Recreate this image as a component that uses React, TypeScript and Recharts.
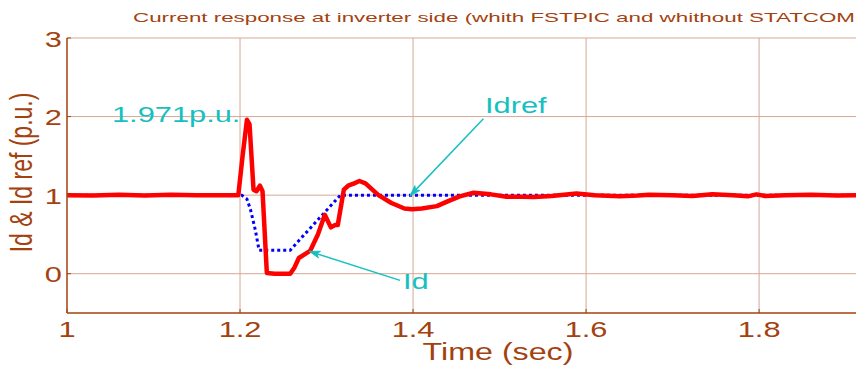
import React from "react";
import { LineChart, Line, XAxis, YAxis, CartesianGrid, ReferenceLine } from "recharts";

const idTime = [1.0, 1.03, 1.06, 1.09, 1.12, 1.15, 1.18, 1.198, 1.203, 1.208, 1.211, 1.2156, 1.219, 1.223, 1.226, 1.231, 1.24, 1.258, 1.263, 1.268, 1.275, 1.281, 1.29, 1.298, 1.305, 1.31, 1.313, 1.32, 1.325, 1.332, 1.338, 1.345, 1.36, 1.375, 1.39, 1.399, 1.41, 1.4275, 1.44, 1.454, 1.47, 1.49, 1.508, 1.525, 1.54, 1.56, 1.589, 1.61, 1.639, 1.66, 1.673, 1.7, 1.723, 1.746, 1.77, 1.787, 1.797, 1.807, 1.83, 1.86, 1.89, 1.912];
const idValues = [1.0, 0.995, 1.005, 0.995, 1.005, 1.0, 1.0, 1.0, 1.5, 1.96, 1.9, 1.07, 1.05, 1.12, 1.05, 0.01, 0.0, 0.0, 0.08, 0.2, 0.25, 0.29, 0.5, 0.75, 0.59, 0.62, 0.62, 1.07, 1.12, 1.15, 1.18, 1.15, 1.0, 0.9, 0.83, 0.82, 0.83, 0.86, 0.92, 0.985, 1.03, 1.01, 0.98, 0.98, 0.975, 0.99, 1.02, 1.0, 0.985, 0.995, 1.005, 1.0, 0.99, 1.01, 1.0, 0.985, 1.01, 0.99, 1.0, 1.005, 0.995, 1.0];

const refTime = [1.0, 1.202, 1.208, 1.212, 1.2176, 1.222, 1.258, 1.316, 1.912];
const refValues = [1.0, 1.0, 0.95, 0.82, 0.56, 0.3, 0.3, 1.0, 1.0];

const xTicks = [1, 1.2, 1.4, 1.6, 1.8];
const yTicks = [0, 1, 2, 3];

const idData = idTime.map((t, i) => ({ t, v: idValues[i] }));
const refData = refTime.map((t, i) => ({ t, v: refValues[i] }));

const BROWN = "#a3420f";
const CYAN = "#17c0c0";
const GRID = "#d6a895";
const FONT = "'Liberation Sans', Arial, sans-serif";
const SX = 1.4;

function SText({ x, y, anchor = "start", size, fill, rotate = false, children }: any) {
  return (
    <text
      transform={`translate(${x},${y}) scale(${SX},1)${rotate ? " rotate(-90)" : ""}`}
      textAnchor={anchor}
      fontSize={size}
      fontFamily={FONT}
      fill={fill}
    >
      {children}
    </text>
  );
}

function YTick(props: any) {
  const { x, y, payload } = props;
  return (
    <g>
      <line x1={x + 5} y1={y} x2={x + 9} y2={y} stroke={BROWN} strokeWidth={1} />
      <SText x={x} y={y + 8.5} anchor="end" size={22} fill={BROWN}>
        {String(payload.value)}
      </SText>
    </g>
  );
}

function XTick(props: any) {
  const { x, y, payload } = props;
  return (
    <g>
      <line x1={x} y1={y} x2={x} y2={y - 4} stroke={BROWN} strokeWidth={1} />
      <SText x={x} y={y + 24} anchor="middle" size={22} fill={BROWN}>
        {String(payload.value)}
      </SText>
    </g>
  );
}

function Arrow(props: any) {
  const { x1, y1, x2, y2 } = props;
  const ang = Math.atan2(y2 - y1, x2 - x1);
  const L = 11;
  const a = 0.32;
  const p1 = [x2 - L * Math.cos(ang - a), y2 - L * Math.sin(ang - a)];
  const p2 = [x2 - L * Math.cos(ang + a), y2 - L * Math.sin(ang + a)];
  const back = [x2 - 0.7 * L * Math.cos(ang), y2 - 0.7 * L * Math.sin(ang)];
  return (
    <g>
      <line x1={x1} y1={y1} x2={x2} y2={y2} stroke={CYAN} strokeWidth={1.5} />
      <polygon
        points={`${x2},${y2} ${p1[0]},${p1[1]} ${back[0]},${back[1]} ${p2[0]},${p2[1]}`}
        fill={CYAN}
        stroke={CYAN}
        strokeWidth={1}
      />
    </g>
  );
}

export default function App() {
  return (
    <div style={{ position: "absolute", left: 0, top: 0, width: 856, height: 367, background: "#fff" }}>
      <LineChart width={856} height={367} margin={{ top: 38, right: 0, bottom: 0, left: 0 }}>
        <CartesianGrid stroke={GRID} strokeWidth={1} horizontalValues={yTicks} verticalValues={[1.2, 1.4, 1.6, 1.8]} />
        <XAxis
          type="number"
          dataKey="t"
          domain={[1, 1.912]}
          ticks={xTicks}
          allowDataOverflow
          height={54}
          stroke={BROWN}
          strokeWidth={1.5}
          tickSize={0}
          tickMargin={0}
          tickLine={false}
          tick={<XTick />}
          interval={0}
        />
        <YAxis
          type="number"
          domain={[-0.5, 3]}
          ticks={yTicks}
          allowDataOverflow
          width={67}
          stroke={BROWN}
          strokeWidth={1.5}
          tickSize={0}
          tickMargin={5}
          tickLine={false}
          tick={<YTick />}
          interval={0}
        />
        <Line data={refData} dataKey="v" type="linear" stroke="#0000ff" strokeWidth={3} strokeDasharray="3 3" dot={false} isAnimationActive={false} />
        <Line data={idData} dataKey="v" type="linear" stroke="#ff0000" strokeWidth={4.5} strokeLinejoin="round" dot={false} isAnimationActive={false} />
        <ReferenceLine segment={[{ x: 1.4813, y: 1.971 }, { x: 1.3967, y: 0.994 }]} shape={(p: any) => <Arrow {...p} />} ifOverflow="visible" />
        <ReferenceLine segment={[{ x: 1.385, y: -0.085 }, { x: 1.2803, y: 0.284 }]} shape={(p: any) => <Arrow {...p} />} ifOverflow="visible" />
      </LineChart>
      <svg width={856} height={367} style={{ position: "absolute", left: 0, top: 0, pointerEvents: "none" }}>
        <text x={133} y={22} fontSize={13} fontFamily={FONT} fill={BROWN} textLength={722} lengthAdjust="spacingAndGlyphs">
          Current response at inverter side (whith FSTPIC and whithout STATCOM
        </text>
        <SText x={31.7} y={172.5} anchor="middle" size={23} fill={BROWN} rotate>
          Id &amp; Id ref (p.u.)
        </SText>
        <SText x={498} y={360} anchor="middle" size={23} fill={BROWN}>
          Time (sec)
        </SText>
        <SText x={112} y={121.7} size={22} fill={CYAN}>
          1.971p.u.
        </SText>
        <SText x={485} y={113} size={22} fill={CYAN}>
          Idref
        </SText>
        <SText x={403} y={289} size={22} fill={CYAN}>
          Id
        </SText>
      </svg>
    </div>
  );
}
